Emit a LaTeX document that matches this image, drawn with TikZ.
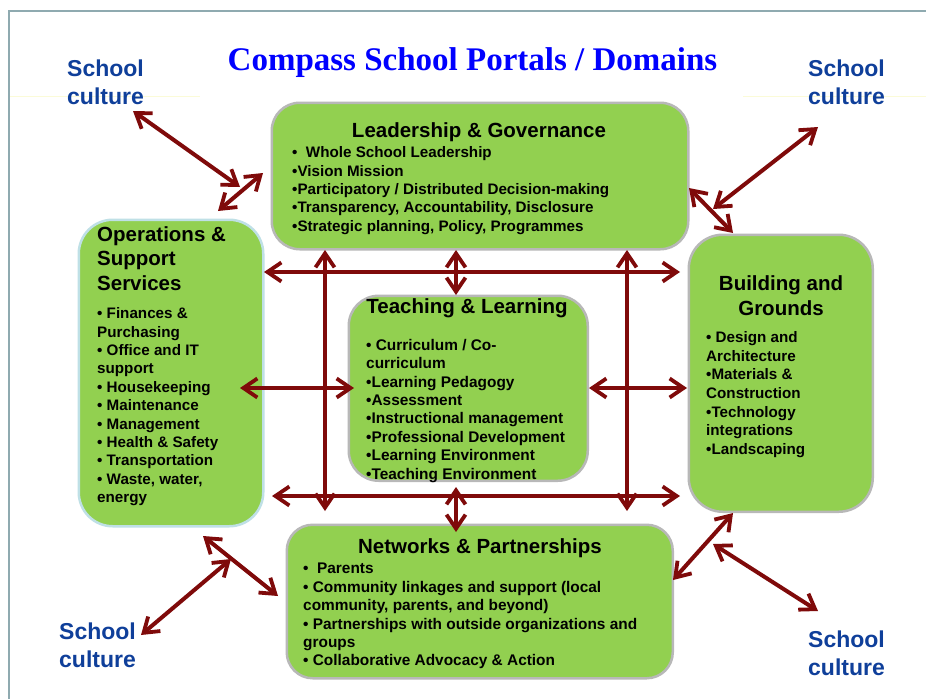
\documentclass[tikz,border=0pt]{standalone}
\usepackage{fontspec}
\setmainfont{Liberation Sans}
\newfontfamily\titlefont{Liberation Serif}
\usetikzlibrary{arrows.meta}
\definecolor{boxgreen}{HTML}{92D050}
\definecolor{linkred}{HTML}{7F0A0A}
\definecolor{framecol}{HTML}{8FAAB0}
\definecolor{schoolblue}{HTML}{0F3F9A}
\definecolor{edgegrey}{HTML}{B8B8B8}
\definecolor{edgeblue}{HTML}{BFE0E6}
\definecolor{paleyellow}{HTML}{FBFBD8}
\tikzset{
  x=1pt,y=-1pt,
  portalbox/.style={draw=edgegrey,line width=2.5pt,fill=boxgreen,anchor=north west,inner sep=0pt},
  bodytext/.style={anchor=north west,inner sep=0pt,align=left,font=\fontsize{15.2}{18.4}\selectfont\bfseries,text=black},
  widetext/.style={anchor=north west,inner sep=0pt,align=left,font=\fontsize{15.4}{18.4}\selectfont\bfseries,text=black},
  headtext/.style={inner sep=0pt,align=center,font=\fontsize{20.5}{25}\selectfont\bfseries,text=black},
  schooltext/.style={inner sep=0pt,align=left,anchor=north west,font=\fontsize{23}{28}\selectfont\bfseries,text=schoolblue},
  linkarrow/.style={draw=linkred,line width=4pt,{Straight Barb[length=14pt,width=19pt,line width=3.8pt]}-{Straight Barb[length=14pt,width=19pt,line width=3.8pt]}},
}
\newcommand{\boxat}[7]{\node[portalbox,#7,minimum width=#4pt,minimum height=#5pt,rounded corners=#6pt] (#1) at (#2,#3) {};}
\begin{document}
\begin{tikzpicture}
\useasboundingbox (0,0) rectangle (926,699);
\fill[white] (0,0) rectangle (926,699);
\coordinate (fa) at (926,11); \coordinate (fb) at (9,11); \coordinate (fc) at (9,699);
\draw[framecol,line width=1.5pt] (fa) -- (fb) -- (fc);
\coordinate (ya) at (10,96); \coordinate (yb) at (200,96); \coordinate (yc) at (743,96); \coordinate (yd) at (926,96);
\draw[paleyellow,line width=0.8pt] (ya) -- (yb);
\draw[paleyellow,line width=0.8pt] (yc) -- (yd);

\node[anchor=center,inner sep=0pt,text=blue,font=\titlefont\fontsize{33}{36}\selectfont\bfseries] (title) at (472.5,62.5) {Compass School Portals / Domains};

\boxat{lead}{270.5}{101.5}{416.5}{146.5}{28}{}
\boxat{ops}{77.5}{218.5}{184.5}{306.5}{34}{draw=edgeblue}
\boxat{teach}{347.5}{294.5}{239}{185}{30}{}
\boxat{build}{687.5}{233.5}{184}{277}{34}{}
\boxat{net}{285.5}{523.5}{386}{153.5}{26}{}

\node[headtext] (leadh) at (479,132) {Leadership \& Governance};
\node[bodytext] (leadt) at (292,146.5) {•\ \ Whole School Leadership\\•Vision Mission\\•Participatory / Distributed Decision-making\\•Transparency, Accountability, Disclosure\\•Strategic planning, Policy, Programmes};

\node[bodytext,anchor=north west,font=\fontsize{20.5}{24.5}\selectfont\bfseries] (opsh) at (97,226) {Operations \&\\Support\\Services};
\node[bodytext] (opst) at (97,307.5) {• Finances \&\\Purchasing\\• Office and IT\\support\\• Housekeeping\\• Maintenance\\• Management\\• Health \& Safety\\• Transportation\\• Waste, water,\\energy};

\node[headtext] (teachh) at (467,308.5) {Teaching \& Learning};
\node[widetext] (teacht) at (366,339) {• Curriculum / Co-\\curriculum\\•Learning Pedagogy\\•Assessment\\•Instructional management\\•Professional Development\\•Learning Environment\\•Teaching Environment};

\node[headtext,font=\fontsize{20.5}{25.5}\selectfont\bfseries] (buildh) at (781,295.5) {Building and\\Grounds};
\node[bodytext,font=\fontsize{15.2}{18.6}\selectfont\bfseries] (buildt) at (706,331.5) {• Design and\\Architecture\\•Materials \&\\Construction\\•Technology\\integrations\\•Landscaping};

\node[headtext] (neth) at (480,548) {Networks \& Partnerships};
\node[widetext] (nett) at (303,563) {•\ \ Parents\\• Community linkages and support (local\\community, parents, and beyond)\\• Partnerships with outside organizations and\\groups\\• Collaborative Advocacy \& Action};

\node[schooltext] (sc1) at (67,60) {School\\culture};
\node[schooltext] (sc2) at (808,60) {School\\culture};
\node[schooltext] (sc3) at (59,623) {School\\culture};
\node[schooltext] (sc4) at (808,631) {School\\culture};

\coordinate (a1) at (133,111); \coordinate (a2) at (240,187);
\coordinate (b1) at (263,173); \coordinate (b2) at (218,211);
\coordinate (c1) at (818,127); \coordinate (c2) at (713,209);
\coordinate (d1) at (689,188); \coordinate (d2) at (733,233);
\coordinate (e1) at (203,536); \coordinate (e2) at (278,596);
\coordinate (f1) at (231,559); \coordinate (f2) at (141,635);
\coordinate (g1) at (733,513); \coordinate (g2) at (673,580);
\coordinate (h1) at (713,544); \coordinate (h2) at (818,611);
\coordinate (i1) at (264,272); \coordinate (i2) at (680,272);
\coordinate (j1) at (272,496); \coordinate (j2) at (680,496);
\coordinate (k1) at (325,250); \coordinate (k2) at (325,511);
\coordinate (l1) at (627,250); \coordinate (l2) at (627,511);
\coordinate (m1) at (456,250); \coordinate (m2) at (456,295);
\coordinate (n1) at (456,487); \coordinate (n2) at (456,532);
\coordinate (o1) at (240,388); \coordinate (o2) at (354,388);
\coordinate (p1) at (589,388); \coordinate (p2) at (687,388);
\foreach \s/\t in {a1/a2,b1/b2,c1/c2,d1/d2,e1/e2,f1/f2,g1/g2,h1/h2,i1/i2,j1/j2,k1/k2,l1/l2,m1/m2,n1/n2,o1/o2,p1/p2}
  \draw[linkarrow] (\s) -- (\t);
\end{tikzpicture}
\end{document}
